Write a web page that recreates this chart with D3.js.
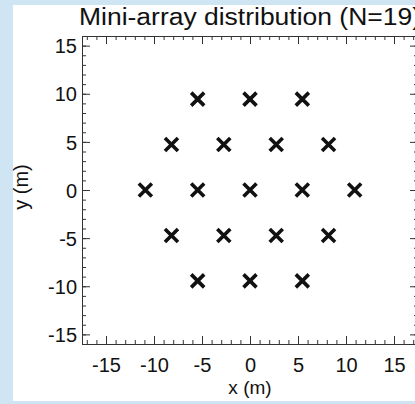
<!DOCTYPE html>
<html>
<head>
<meta charset="utf-8">
<script src="https://cdn.jsdelivr.net/npm/d3@7"></script>
<style>
  html, body { margin: 0; padding: 0; background: #cfe5f4; }
  svg { display: block; }
</style>
</head>
<body>
<svg id="chart" width="415" height="404"></svg>
<script>
// Station positions of the 19-element hexagonal mini-array (metres)
const stationX = [-5.45, 0, 5.45,
                  -8.18, -2.73, 2.73, 8.18,
                  -10.9, -5.45, 0, 5.45, 10.9,
                  -8.18, -2.73, 2.73, 8.18,
                  -5.45, 0, 5.45];
const stationY = [9.44, 9.44, 9.44,
                  4.72, 4.72, 4.72, 4.72,
                  0, 0, 0, 0, 0,
                  -4.72, -4.72, -4.72, -4.72,
                  -9.44, -9.44, -9.44];
const xTickLabels = [-15, -10, -5, 0, 5, 10, 15];
const yTickLabels = [-15, -10, -5, 0, 5, 10, 15];
const titleText = "Mini-array distribution (N=19)";

const svg = d3.select("#chart");
const font = "'Liberation Sans', Arial, Helvetica, sans-serif";
const plain = d => String(d);   // hyphen-minus labels

// white page area
svg.append("rect").attr("x", 13).attr("y", 5).attr("width", 402).attr("height", 396).attr("fill", "#fff");

const box = { left: 82, top: 36, right: 418, bottom: 344 };
const x = d3.scaleLinear().domain([-17.5, 17.5]).range([box.left, box.right]);
const y = d3.scaleLinear().domain([-16, 16]).range([box.bottom, box.top]);

const axisColor = "#333";
const minorX = d3.range(-17, 18, 1);
const minorY = d3.range(-16, 17, 1);

function styleAxis(g) {
  g.select(".domain").attr("stroke", axisColor).attr("stroke-width", 1);
  g.selectAll(".tick line").attr("stroke", axisColor).attr("stroke-width", 1);
}

// minor ticks (inward) on all four sides
const gMinor = svg.append("g");
gMinor.append("g").attr("transform", `translate(0,${box.bottom})`)
  .call(d3.axisTop(x).tickValues(minorX).tickSize(4).tickFormat("")).call(styleAxis);
gMinor.append("g").attr("transform", `translate(0,${box.top})`)
  .call(d3.axisBottom(x).tickValues(minorX).tickSize(4).tickFormat("")).call(styleAxis);
gMinor.append("g").attr("transform", `translate(${box.left},0)`)
  .call(d3.axisRight(y).tickValues(minorY).tickSize(4).tickFormat("")).call(styleAxis);
gMinor.append("g").attr("transform", `translate(${box.right},0)`)
  .call(d3.axisLeft(y).tickValues(minorY).tickSize(4).tickFormat("")).call(styleAxis);

// major ticks with labels
const gxB = svg.append("g").attr("transform", `translate(0,${box.bottom})`)
  .call(d3.axisTop(x).tickValues(xTickLabels).tickSize(8).tickFormat(plain))
  .call(styleAxis);
gxB.selectAll(".tick text").attr("font-family", font).attr("font-size", 20).attr("fill", "#111")
  .attr("y", 28).attr("dy", 0);
svg.append("g").attr("transform", `translate(0,${box.top})`)
  .call(d3.axisBottom(x).tickValues(xTickLabels).tickSize(8).tickFormat("")).call(styleAxis);
const gyL = svg.append("g").attr("transform", `translate(${box.left},0)`)
  .call(d3.axisRight(y).tickValues(yTickLabels).tickSize(8).tickFormat(plain))
  .call(styleAxis);
gyL.selectAll(".tick text").attr("font-family", font).attr("font-size", 20).attr("fill", "#111")
  .attr("x", -5).attr("text-anchor", "end").attr("dy", "0.36em");
svg.append("g").attr("transform", `translate(${box.right},0)`)
  .call(d3.axisLeft(y).tickValues(yTickLabels).tickSize(8).tickFormat("")).call(styleAxis);

// station markers
const half = 6.5;
const markers = svg.append("g").attr("stroke", "#111").attr("stroke-width", 3.6).attr("stroke-linecap", "butt");
stationX.forEach((sx, i) => {
  const cx = x(sx), cy = y(stationY[i]);
  markers.append("path")
    .attr("d", `M${cx - half},${cy - half}L${cx + half},${cy + half}M${cx - half},${cy + half}L${cx + half},${cy - half}`);
});

// title and axis titles
svg.append("text").attr("x", 79).attr("y", 25).attr("font-family", font).attr("font-size", 23)
  .attr("textLength", 342).attr("lengthAdjust", "spacingAndGlyphs")
  .attr("fill", "#111").text(titleText);
svg.append("text").attr("x", x(0)).attr("y", 394).attr("text-anchor", "middle")
  .attr("font-family", font).attr("font-size", 19).attr("fill", "#111").text("x (m)");
svg.append("text").attr("transform", `translate(28,${y(0) - 3}) rotate(-90)`).attr("text-anchor", "middle")
  .attr("font-family", font).attr("font-size", 20).attr("fill", "#111").text("y (m)");
</script>
</body>
</html>
